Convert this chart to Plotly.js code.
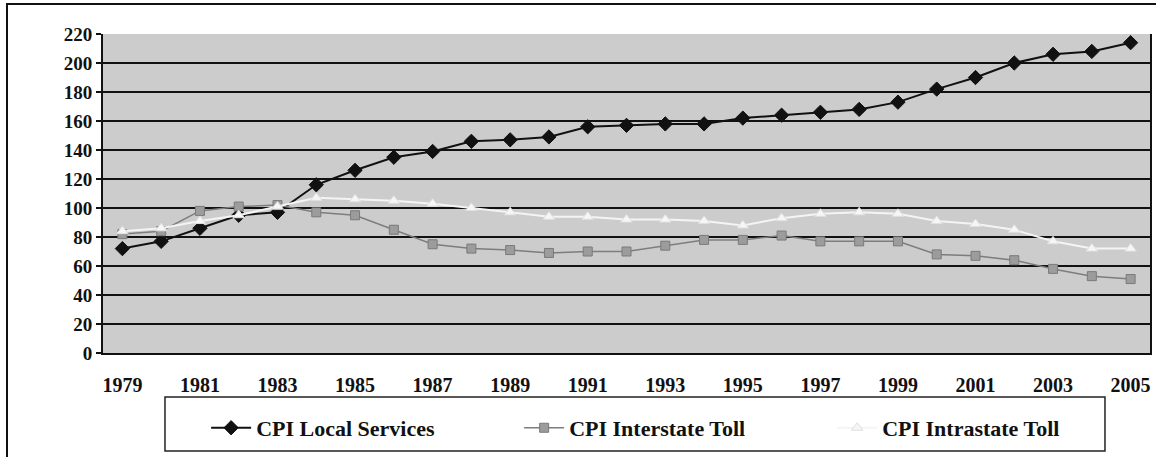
<!DOCTYPE html>
<html>
<head>
<meta charset="utf-8">
<script src="https://cdn.plot.ly/plotly-3.0.1.min.js"></script>
<style>
  html, body { margin: 0; padding: 0; background: #fff; }
  #wrap { position: relative; width: 1156px; height: 457px; }
  #chart { width: 1156px; height: 457px; }
  #frame { position: absolute; left: 6px; top: 3px; width: 1148px; height: 460px;
           border-left: 2px solid #111; border-top: 2px solid #111; border-right: 2px solid #111;
           pointer-events: none; }
</style>
</head>
<body>
<div id="wrap">
  <div id="chart"></div>
  <div id="frame"></div>
</div>
<script>
const years = [1979,1980,1981,1982,1983,1984,1985,1986,1987,1988,1989,1990,1991,1992,
               1993,1994,1995,1996,1997,1998,1999,2000,2001,2002,2003,2004,2005];
const localServices = [72,77,86,95,97,116,126,135,139,146,147,149,156,157,
                       158,158,162,164,166,168,173,182,190,200,206,208,214];
const interstateToll = [82,84,98,101,102,97,95,85,75,72,71,69,70,70,
                        74,78,78,81,77,77,77,68,67,64,58,53,51];
const intrastateToll = [84,86,91,95,101,107,106,105,103,100,97,94,94,92,
                        92,91,88,93,96,97,96,91,89,85,77,72,72];
const yTicks = [0,20,40,60,80,100,120,140,160,180,200,220];

const serif = "'Liberation Serif', 'Times New Roman', serif";

const traces = [
  { x: years, y: localServices, name: 'CPI Local Services', type: 'scatter', mode: 'lines+markers',
    line: { color: '#111', width: 2 },
    marker: { symbol: 'diamond', size: 11, color: '#111', line: { color: '#111', width: 1 } } },
  { x: years, y: interstateToll, name: 'CPI Interstate Toll', type: 'scatter', mode: 'lines+markers',
    line: { color: '#7d7d7d', width: 1.5 },
    marker: { symbol: 'square', size: 9, color: '#9c9c9c', line: { color: '#7a7a7a', width: 1 } } },
  { x: years, y: intrastateToll, name: 'CPI Intrastate Toll', type: 'scatter', mode: 'lines+markers',
    line: { color: '#f4f4f4', width: 2 },
    marker: { symbol: 'triangle-up', size: 10, color: '#f6f6f6', line: { color: '#e0e0e0', width: 1 } } }
];

const layout = {
  width: 1156, height: 457,
  margin: { l: 103, r: 6, t: 34, b: 104, autoexpand: false },
  paper_bgcolor: '#ffffff',
  plot_bgcolor: '#cccccc',
  font: { family: serif, size: 19, color: '#111' },
  showlegend: true,
  legend: {
    orientation: 'h', x: 0.0985, xanchor: 'left', y: -0.235, yanchor: 'middle',
    borderwidth: 0, bgcolor: 'rgba(0,0,0,0)',
    font: { family: serif, size: 22, color: '#111', weight: 'bold' },
    entrywidth: 258, entrywidthmode: 'pixels', itemwidth: 40
  },
  shapes: [
    { type: 'rect', xref: 'paper', yref: 'paper', x0: 0.0592, x1: 0.957, y0: -0.307, y1: -0.138,
      line: { color: '#222', width: 1.5 }, fillcolor: 'rgba(0,0,0,0)', layer: 'above' }
  ],
  xaxis: {
    range: [1978.5, 2005.5], tick0: 1979, dtick: 2, tickmode: 'linear',
    showgrid: false, zeroline: false,
    showline: true, linecolor: '#111', linewidth: 2,
    ticks: '', ticklabelstandoff: 13,
    tickfont: { family: serif, size: 20, color: '#111', weight: 'bold' }
  },
  yaxis: {
    range: [0, 220], tickmode: 'array', tickvals: yTicks,
    showgrid: true, gridcolor: '#111', gridwidth: 2, zeroline: false,
    showline: true, linecolor: '#111', linewidth: 2, mirror: true,
    ticks: 'outside', ticklen: 5, tickcolor: '#111', tickwidth: 2,
    tickfont: { family: serif, size: 19, color: '#111', weight: 'bold' }
  }
};

Plotly.newPlot('chart', traces, layout, { displayModeBar: false, staticPlot: true });
</script>
</body>
</html>
